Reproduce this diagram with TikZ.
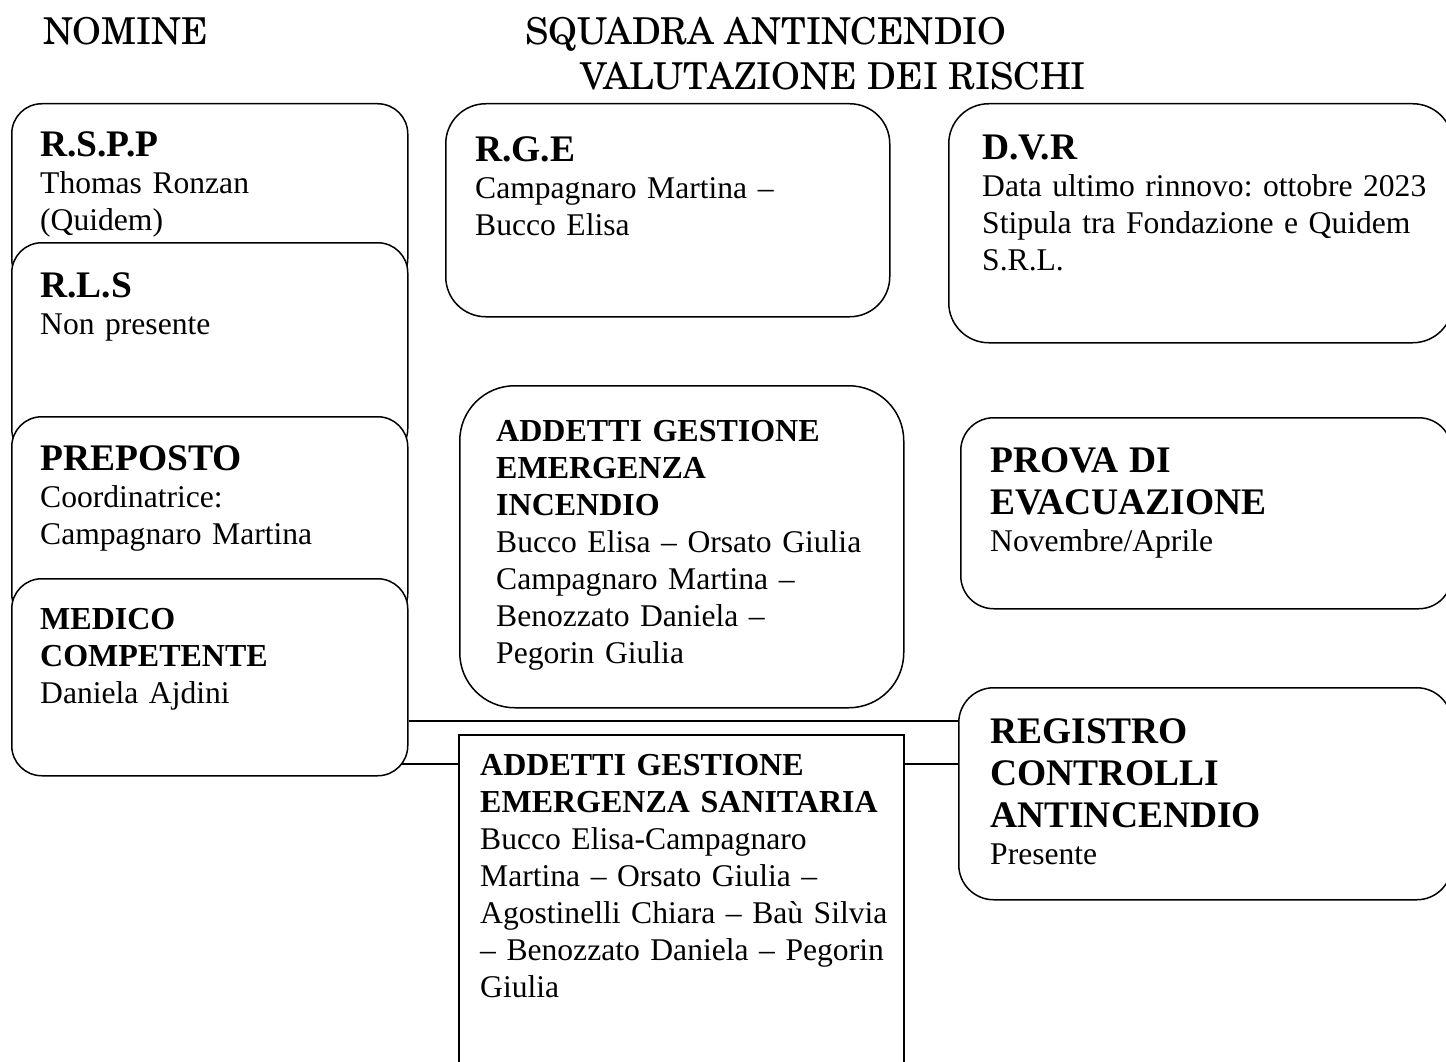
\documentclass[tikz,border=0pt]{standalone}
\usepackage{fontspec}
\newfontfamily\bodyfont[Ligatures=TeX, WordSpace=0.75]{Liberation Serif}
\newfontfamily\titlefont{texgyreschola-regular.otf}
\newcommand{\hd}{\fontsize{37.5}{42}\selectfont\bfseries}
\newcommand{\hs}{\fontsize{32}{37}\selectfont\bfseries}
\frenchspacing

\begin{document}
\begin{tikzpicture}[x=1pt, y=-1pt,
  box/.style={draw, fill=white, line width=1.5pt, inner sep=0pt, anchor=north west},
  txt/.style={anchor=base west, inner sep=0pt, text width=480pt, align=left,
    font=\bodyfont\fontsize{31.6}{37}\selectfont\raggedright},
  title/.style={anchor=base west, inner sep=0pt, font=\titlefont\fontsize{37}{46}\selectfont},
  link/.style={line width=1.5pt}]
  \useasboundingbox (0, 0) rectangle (1446, 1062);

  % Titles
  \node[title] (nomine) at (43, 45) {NOMINE};
  \node[title] (squadra) at (525, 45) {SQUADRA ANTINCENDIO};
  \node[title] (valutazione) at (580, 90) {VALUTAZIONE DEI RISCHI};

  % Nomine column
  \node[box, rounded corners=30pt, minimum width=396, minimum height=185] (rspp) at (11, 103) {};
  \node[box, rounded corners=30pt, minimum width=396, minimum height=216] (rls) at (11, 242) {};
  \node[box, rounded corners=30pt, minimum width=396, minimum height=207] (prep) at (11, 416) {};
  \node[box, rounded corners=30pt, minimum width=396, minimum height=197] (med) at (11, 578) {};

  % Squadra antincendio column
  \node[box, rounded corners=40pt, minimum width=444, minimum height=213] (rge) at (445, 103) {};
  \node[box, rounded corners=55pt, minimum width=444, minimum height=322] (inc) at (459, 385) {};
  \node[box, minimum width=445, minimum height=346] (san) at (458, 734) {};

  % Valutazione dei rischi column
  \node[box, rounded corners=40pt, minimum width=504, minimum height=239] (dvr) at (948, 103) {};
  \node[box, rounded corners=33pt, minimum width=491, minimum height=191] (prova) at (960, 417) {};
  \node[box, rounded corners=35pt, minimum width=493, minimum height=212] (reg) at (958, 687) {};

  % Links
  \draw[link] ([yshift=-43.5]med.east) -- ([yshift=-43.5]med.east -| reg.west);
  \draw[link, shorten >=-7pt] ([yshift=-30]san.north west) -- ([yshift=-30]san.north west -| med.east);
  \draw[link] ([yshift=-30]san.north east) -- ([yshift=-30]san.north east -| reg.west);

  % Texts
  \node[txt] (rspp-t) at ([shift={(29, 54)}]rspp.north west) {{\hd R.S.P.P\par}Thomas Ronzan\\(Quidem)};
  \node[txt] (rls-t) at ([shift={(29, 55)}]rls.north west) {{\hd R.L.S\par}Non presente};
  \node[txt] (prep-t) at ([shift={(29, 54)}]prep.north west) {{\hd PREPOSTO\par}Coordinatrice:\\Campagnaro Martina};
  \node[txt] (med-t) at ([shift={(29, 51)}]med.north west) {{\hs MEDICO\\COMPETENTE\par}Daniela Ajdini};
  \node[txt] (rge-t) at ([shift={(30, 58)}]rge.north west) {{\hd R.G.E\par}Campagnaro Martina –\\Bucco Elisa};
  \node[txt] (inc-t) at ([shift={(37, 56)}]inc.north west) {{\hs ADDETTI GESTIONE\\EMERGENZA\\INCENDIO\par}Bucco Elisa – Orsato Giulia\\Campagnaro Martina –\\Benozzato Daniela –\\Pegorin Giulia};
  \node[txt] (san-t) at ([shift={(22, 41)}]san.north west) {{\hs ADDETTI GESTIONE\\EMERGENZA SANITARIA\par}Bucco Elisa-Campagnaro\\Martina – Orsato Giulia –\\Agostinelli Chiara – Baù Silvia\\– Benozzato Daniela – Pegorin\\Giulia};
  \node[txt] (dvr-t) at ([shift={(34, 57)}]dvr.north west) {{\hd D.V.R\par}Data ultimo rinnovo: ottobre 2023\\Stipula tra Fondazione e Quidem\\S.R.L.};
  \node[txt] (prova-t) at ([shift={(30, 55)}]prova.north west) {{\hd PROVA DI\\EVACUAZIONE\par}Novembre/Aprile};
  \node[txt] (reg-t) at ([shift={(32, 56)}]reg.north west) {{\hd REGISTRO\\CONTROLLI\\ANTINCENDIO\par}Presente};
\end{tikzpicture}
\end{document}
